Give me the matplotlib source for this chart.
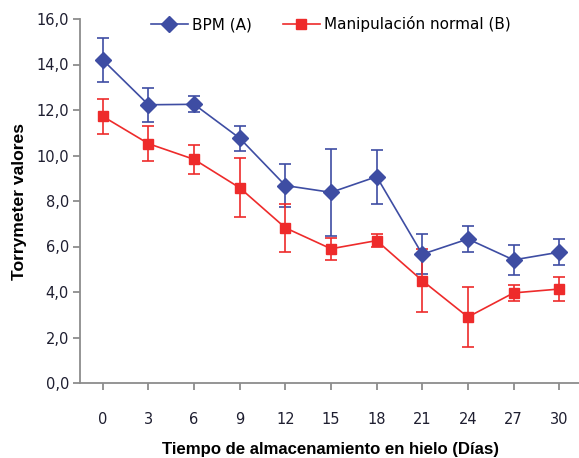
import matplotlib
matplotlib.use("Agg")
import matplotlib.pyplot as plt
from matplotlib.lines import Line2D
import numpy as np

days = ["0", "3", "6", "9", "12", "15", "18", "21", "24", "27", "30"]
bpm = [14.2, 12.23, 12.25, 10.76, 8.68, 8.38, 9.07, 5.66, 6.33, 5.41, 5.75]
bpm_err = [0.95, 0.75, 0.35, 0.55, 0.93, 1.9, 1.18, 0.87, 0.55, 0.65, 0.58]
normal = [11.72, 10.52, 9.83, 8.58, 6.82, 5.9, 6.26, 4.5, 2.9, 3.96, 4.13]
normal_err = [0.77, 0.76, 0.65, 1.29, 1.07, 0.48, 0.3, 1.37, 1.31, 0.35, 0.53]
yticks = [0, 2, 4, 6, 8, 10, 12, 14, 16]

blue = "#3E4DA3"
red = "#EE2B2B"

fig = plt.figure(figsize=(5.79, 4.58), dpi=100)
ax = fig.add_axes([80/579, 75/458, 502/579, 364/458])
x = np.arange(len(days))

ax.errorbar(x, bpm, yerr=bpm_err, color=blue, marker="D", ms=8, lw=1.2,
            capsize=4.5, elinewidth=1.2, capthick=1.2, zorder=3)
ax.errorbar(x, normal, yerr=normal_err, color=red, marker="s", ms=7, lw=1.2,
            capsize=4.5, elinewidth=1.2, capthick=1.2, zorder=3)

ax.set_xlim(-0.5, len(days) - 0.5)
ax.set_ylim(0, 16)
ax.set_xticks(x)
ax.set_xticklabels(days)
ax.set_yticks(yticks)
ax.set_yticklabels([f"{v:.1f}".replace(".", ",") for v in yticks])

for s in ["top", "right"]:
    ax.spines[s].set_visible(False)
for s in ["left", "bottom"]:
    ax.spines[s].set_color("#8c8c8c")
    ax.spines[s].set_linewidth(1.3)
ax.tick_params(axis="both", colors="#8c8c8c", labelcolor="#1e1e30", labelsize=10.5, length=5, width=1.3)
ax.tick_params(axis="x", pad=16)
ax.tick_params(axis="y", pad=3)

ax.set_xlabel("Tiempo de almacenamiento en hielo (Días)", fontsize=12.1, fontweight="bold",
              family="Liberation Sans", labelpad=11)
ax.set_ylabel("Torrymeter valores", fontsize=12.6, fontweight="bold", family="Liberation Sans",
              labelpad=7)

handles = [
    Line2D([], [], color=blue, marker="D", ms=8, lw=1.2, label="BPM (A)"),
    Line2D([], [], color=red, marker="s", ms=7, lw=1.2, label="Manipulación normal (B)"),
]
ax.legend(handles=handles, loc="upper center", bbox_to_anchor=(0.5, 1.045), ncol=2, frameon=False,
          fontsize=11, handlelength=2.4, columnspacing=2.0, handletextpad=0.3)

fig.savefig("out.png", dpi=100)
